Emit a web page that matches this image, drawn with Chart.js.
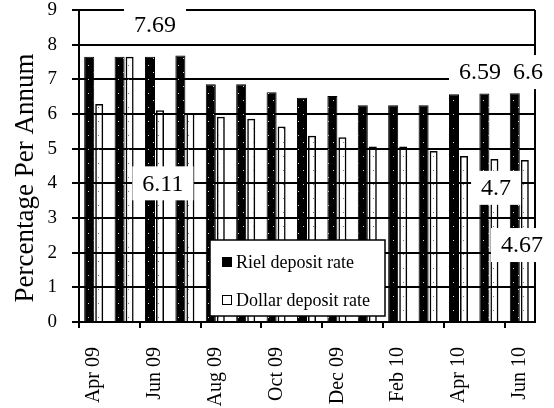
<!DOCTYPE html>
<html>
<head>
<meta charset="utf-8">
<script src="https://cdn.jsdelivr.net/npm/chart.js@4.4.1/dist/chart.umd.min.js"></script>
<style>
  html, body { margin: 0; padding: 0; background: #fff; }
  #wrap { width: 554px; height: 408px; }
</style>
</head>
<body>
<div id="wrap"><canvas id="rateChart" width="554" height="408"></canvas></div>
<script>
// Months on the x axis
const months = ['Apr 09', 'May 09', 'Jun 09', 'Jul 09', 'Aug 09', 'Sep 09', 'Oct 09', 'Nov 09',
                'Dec 09', 'Jan 10', 'Feb 10', 'Mar 10', 'Apr 10', 'May 10', 'Jun 10'];
// Riel deposit rate, % per annum
const rielRates = [7.65, 7.65, 7.65, 7.69, 6.86, 6.86, 6.63, 6.47, 6.52, 6.25, 6.25, 6.25, 6.57, 6.59, 6.6];
// Dollar deposit rate, % per annum
const dollarRates = [6.29, 7.65, 6.11, 6.02, 5.92, 5.86, 5.64, 5.37, 5.33, 5.06, 5.06, 4.93, 4.79, 4.7, 4.67];
// y axis tick values
const yTicks = [0, 1, 2, 3, 4, 5, 6, 7, 8, 9];
const yTitle = 'Percentage Per Annum';

const FONT = '"Liberation Serif", "Times New Roman", serif';

// Dotted fills like the old Excel patterns
function makePattern(bg, dot) {
    const c = document.createElement('canvas');
    c.width = 10;
    c.height = 14;
    const g = c.getContext('2d');
    if (bg) {
        g.fillStyle = bg;
        g.fillRect(0, 0, 10, 14);
    }
    g.fillStyle = dot;
    g.fillRect(3, 2, 1, 1);
    g.fillRect(8, 9, 1, 1);
    return g.createPattern(c, 'repeat');
}

// Value callouts: series, month index, and where the white box sits (category pos, y value)
const callouts = [
    { series: 0, month: 3, atX: 2.0, atY: 8.57 },
    { series: 1, month: 2, atX: 2.26, atY: 4.0 },
    { series: 0, month: 13, atX: 12.69, atY: 7.21 },
    { series: 0, month: 14, atX: 14.27, atY: 7.21 },
    { series: 1, month: 13, atX: 13.22, atY: 3.87 },
    { series: 1, month: 14, atX: 14.07, atY: 2.22 }
];

// Right border, callout boxes, the floating legend and the y title
const overlayPlugin = {
    id: 'overlay',
    afterDatasetsDraw(chart) {
        const ctx = chart.ctx;
        const area = chart.chartArea;
        const xs = chart.scales.x;
        const ys = chart.scales.y;
        ctx.save();

        // right frame line
        ctx.strokeStyle = '#000';
        ctx.lineWidth = 2;
        ctx.beginPath();
        ctx.moveTo(area.right, area.top);
        ctx.lineTo(area.right, area.bottom);
        ctx.stroke();

        // callouts: boxes first, then the text
        ctx.font = '24px ' + FONT;
        ctx.textAlign = 'center';
        ctx.textBaseline = 'middle';
        const items = callouts.map(c => {
            const text = String(chart.data.datasets[c.series].data[c.month]);
            return { text, x: xs.getPixelForValue(c.atX), y: ys.getPixelForValue(c.atY), w: ctx.measureText(text).width };
        });
        ctx.fillStyle = '#fff';
        items.forEach(it => ctx.fillRect(it.x - it.w / 2 - 10, it.y - 17, it.w + 20, 34));
        ctx.fillStyle = '#000';
        items.forEach(it => ctx.fillText(it.text, it.x, it.y + 1));

        // legend box
        const lx = area.left + 131, ly = area.top + 230, lw = 175, lh = 76;
        ctx.fillStyle = '#fff';
        ctx.fillRect(lx, ly, lw, lh);
        ctx.lineWidth = 1.5;
        ctx.strokeRect(lx, ly, lw, lh);
        ctx.font = '18px ' + FONT;
        ctx.textAlign = 'left';
        chart.data.datasets.forEach((ds, i) => {
            const ry = ly + 22 + i * 38;
            ctx.fillStyle = i === 0 ? '#000' : '#fff';
            ctx.fillRect(lx + 12, ry - 5, 10, 10);
            ctx.lineWidth = 1;
            ctx.strokeStyle = '#000';
            ctx.strokeRect(lx + 12.5, ry - 4.5, 9, 9);
            ctx.fillStyle = '#000';
            ctx.fillText(ds.label, lx + 26, ry + 1);
        });

        // y axis title
        ctx.translate(26, (area.top + area.bottom) / 2 + 12);
        ctx.rotate(-Math.PI / 2);
        ctx.font = '27px ' + FONT;
        ctx.textAlign = 'center';
        ctx.fillText(yTitle, 0, 0);
        ctx.restore();
    }
};

function renderChart() {
    const ctx = document.getElementById('rateChart').getContext('2d');
    new Chart(ctx, {
        type: 'bar',
        data: {
            labels: months,
            datasets: [{
                label: 'Riel deposit rate',
                data: rielRates,
                backgroundColor: makePattern('#000', '#d8d8d8'),
                borderColor: '#000',
                borderWidth: 1,
                barPercentage: 1,
                categoryPercentage: 0.66
            }, {
                label: 'Dollar deposit rate',
                data: dollarRates,
                backgroundColor: makePattern(null, '#777'),
                borderColor: '#000',
                borderWidth: 1.5,
                barPercentage: 1,
                categoryPercentage: 0.66,
                maxBarThickness: 8
            }]
        },
        options: {
            responsive: false,
            animation: false,
            layout: { padding: { top: 10, right: 19, left: 0, bottom: 0 } },
            plugins: {
                legend: { display: false },
                tooltip: { enabled: false }
            },
            scales: {
                x: {
                    offset: true,
                    afterFit: s => {
                        s.height = 86;
                        s.paddingTop = 0; s.paddingBottom = 0;
                        s.paddingLeft = 0; s.paddingRight = 0;
                    },
                    grid: {
                        offset: true,
                        drawOnChartArea: false,
                        tickLength: 6,
                        lineWidth: 2,
                        color: c => (c.index % 2 === 0 ? '#000' : 'rgba(0,0,0,0)')
                    },
                    border: { display: true, color: '#000', width: 2 },
                    ticks: {
                        autoSkip: false,
                        minRotation: 90,
                        maxRotation: 90,
                        padding: 19,
                        color: '#000',
                        font: { family: FONT, size: 20 },
                        callback: (v, i) => (i % 2 === 0 ? months[i] : '')
                    }
                },
                y: {
                    min: 0,
                    max: 9,
                    afterFit: s => { s.width = 79; s.paddingTop = 0; s.paddingBottom = 0; },
                    afterBuildTicks: s => { s.ticks = yTicks.map(v => ({ value: v })); },
                    grid: { color: '#000', lineWidth: 2, tickLength: 7 },
                    border: { display: true, color: '#000', width: 2 },
                    ticks: {
                        padding: 15,
                        color: '#000',
                        font: { family: FONT, size: 19, lineHeight: 1 }
                    }
                }
            }
        },
        plugins: [overlayPlugin]
    });
}

document.addEventListener('DOMContentLoaded', renderChart);
</script>
</body>
</html>
